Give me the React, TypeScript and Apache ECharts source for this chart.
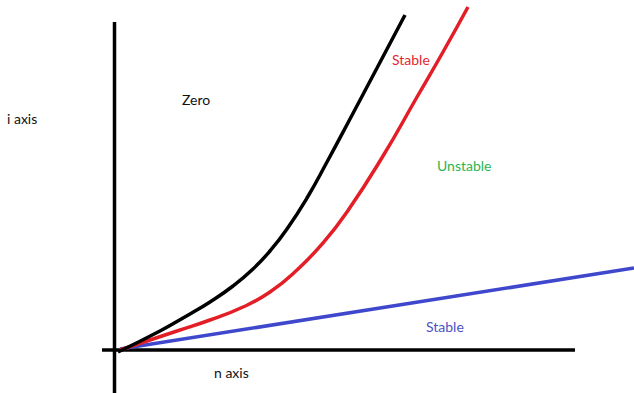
import React, { useEffect, useRef } from "react";
import * as echarts from "echarts";

// chart units: x = n (pixels right of origin), y = i (pixels above origin)
const blackCurve: [number, number][] = [
  [0, -2], [42, 19], [72, 36], [92, 48], [115, 64], [135, 81], [152, 99],
  [169, 121], [189, 152], [209, 188], [232, 231], [259, 282], [287, 335],
];
const redCurve: [number, number][] = [
  [2, 0], [59, 19], [92, 30], [125, 43], [152, 58], [179, 80], [205, 107],
  [229, 138], [265, 194], [299, 253], [325, 298], [350, 343],
];
const blueLine: [number, number][] = [
  [2, 1], [516, 82],
];
const nAxisLine: [number, number][] = [[-16, 0], [457, 0]];
const iAxisLine: [number, number][] = [[-3.5, 328], [-3.5, -43]];

const labels = [
  { text: "i axis", x: 7, y: 118, color: "#111111" },
  { text: "Zero", x: 182, y: 99, color: "#111111" },
  { text: "Stable", x: 392, y: 59, color: "#e3262e" },
  { text: "Unstable", x: 437, y: 165, color: "#2db54f" },
  { text: "Stable", x: 426, y: 326, color: "#4b52c4" },
  { text: "n axis", x: 214, y: 372, color: "#111111" },
];

export default function App() {
  const ref = useRef<HTMLDivElement>(null);
  useEffect(() => {
    if (!ref.current) return;
    const chart = echarts.init(ref.current, null, { renderer: "svg" });
    const lineSeries = (data: [number, number][], color: string, width: number, smooth: number | boolean) => ({
      type: "line",
      data,
      smooth,
      showSymbol: false,
      symbol: "none",
      silent: true,
      lineStyle: { color, width, cap: "butt", join: "round" },
    });
    chart.setOption({
      animation: false,
      backgroundColor: "#ffffff",
      grid: { left: 0, right: 0, top: 0, bottom: 0 },
      xAxis: { type: "value", min: -118, max: 516, show: false },
      yAxis: { type: "value", min: -43, max: 350, show: false },
      series: [
        lineSeries(nAxisLine, "#000000", 3.5, false),
        lineSeries(iAxisLine, "#000000", 3.5, false),
        lineSeries(blueLine, "#3f48cc", 3.5, false),
        lineSeries(redCurve, "#e41e26", 3.5, 0.5),
        lineSeries(blackCurve, "#000000", 3.5, 0.5),
      ],
      graphic: labels.map((l) => ({
        type: "text",
        x: l.x,
        y: l.y,
        style: {
          text: l.text,
          fill: l.color,
          font: "14px Lato, 'Open Sans', sans-serif",
          textVerticalAlign: "middle",
          textAlign: "left",
        },
      })),
    });
    return () => chart.dispose();
  }, []);
  return (
    <div
      ref={ref}
      style={{ position: "absolute", left: 0, top: 0, width: 634, height: 393 }}
    />
  );
}
